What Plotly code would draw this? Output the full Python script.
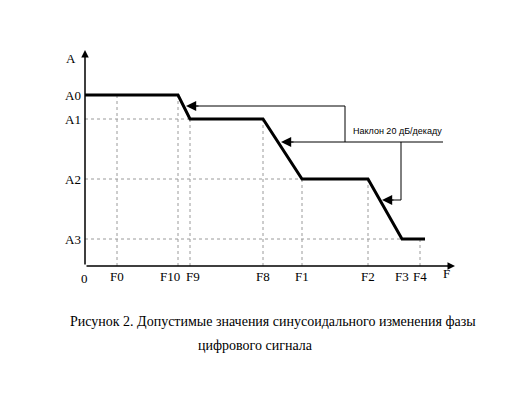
import plotly.graph_objects as go

# Frequency break points (arbitrary linear units along the F axis)
f_names = ["F0", "F10", "F9", "F8", "F1", "F2", "F3", "F4"]
f_vals = [32, 93, 105, 178, 217, 283, 317, 335]

# Amplitude levels
a_names = ["A0", "A1", "A2", "A3"]
a_vals = [171, 147, 87, 27]

# Mask curve (break points)
curve_x = [0, 93, 105, 178, 217, 283, 317, 340]
curve_y = [171, 171, 147, 147, 87, 87, 27, 27]

slope_label = "Наклон 20 дБ/декаду"
caption1 = "Рисунок 2. Допустимые значения синусоидального изменения фазы"
caption2 = "цифрового сигнала"

X_MAX, Y_MAX = 370, 216
OFF = 8  # default page body margin
PX0, PY0 = 85, 266  # pixel position of the origin in the window
W, H = 525 - OFF, 397 - OFF
L, T = PX0 - OFF, PY0 - Y_MAX - OFF
PW, PH = X_MAX, Y_MAX
SERIF = "Liberation Serif, Times New Roman, serif"
SANS = "Liberation Sans, Arial, sans-serif"


def pxx(px):
    return (px - PX0) / PW


def pxy(py):
    return (PY0 - py) / PH


fig = go.Figure()

grid = dict(color="#9a9a9a", width=1, dash="dot")
fv = dict(zip(f_names, f_vals))
av = dict(zip(a_names, a_vals))

# vertical guide lines
vguides = [("F0", "A0"), ("F10", "A0"), ("F9", "A1"), ("F8", "A1"),
           ("F1", "A2"), ("F2", "A2"), ("F4", "A3")]
for f, a in vguides:
    fig.add_trace(go.Scatter(x=[fv[f], fv[f]], y=[0, av[a]], mode="lines",
                             line=grid, hoverinfo="skip", showlegend=False))
# horizontal guide lines
hguides = [("A1", "F9"), ("A2", "F1"), ("A3", "F3")]
for a, f in hguides:
    fig.add_trace(go.Scatter(x=[0, fv[f]], y=[av[a], av[a]], mode="lines",
                             line=grid, hoverinfo="skip", showlegend=False))

# main mask curve
fig.add_trace(go.Scatter(x=curve_x, y=curve_y, mode="lines",
                         line=dict(color="black", width=3),
                         hoverinfo="skip", showlegend=False))

# callout lines
thin = dict(color="black", width=1)
fig.add_trace(go.Scatter(x=[260, 260, 110], y=[124, 160, 160], mode="lines",
                         line=thin, hoverinfo="skip", showlegend=False))
fig.add_trace(go.Scatter(x=[358, 205], y=[124, 124], mode="lines",
                         line=thin, hoverinfo="skip", showlegend=False))
fig.add_trace(go.Scatter(x=[316, 316, 305], y=[124, 66, 66], mode="lines",
                         line=thin, hoverinfo="skip", showlegend=False))

ann = []
# arrowheads of callouts
for (tx, ty, fx) in [(101, 160, 115), (196, 124, 210), (297, 66, 310)]:
    ann.append(dict(x=tx, y=ty, ax=fx, ay=ty, xref="x", yref="y",
                    axref="x", ayref="y", showarrow=True, arrowhead=2,
                    arrowsize=1.7, arrowwidth=1.2, arrowcolor="black", text=""))
# axes with arrows
ann.append(dict(x=0, y=Y_MAX, ax=0, ay=0, xref="x", yref="y", axref="x",
                ayref="y", showarrow=True, arrowhead=2, arrowsize=1,
                arrowwidth=1.5, arrowcolor="black", text=""))
ann.append(dict(x=X_MAX, y=0, ax=0, ay=0, xref="x", yref="y", axref="x",
                ayref="y", showarrow=True, arrowhead=2, arrowsize=1,
                arrowwidth=1.5, arrowcolor="black", text=""))

lab = dict(family=SERIF, size=13, color="black")
mid = dict(showarrow=False, xanchor="center", yanchor="middle")
# x tick labels (F10/F9 nudged apart as in the original)
shifts = {"F10": -8, "F9": 3}
for n, v in zip(f_names, f_vals):
    ann.append(dict(x=v, y=pxy(276), xref="x", yref="paper", text=n,
                    xshift=shifts.get(n, 0), font=lab, **mid))
# y tick labels
for n, v in zip(a_names, a_vals):
    ann.append(dict(x=pxx(83), y=v, xref="paper", yref="y", text=n,
                    showarrow=False, font=lab, xanchor="right",
                    yanchor="middle"))
# axis titles and origin
ann.append(dict(x=pxx(71), y=pxy(59), xref="paper", yref="paper", text="A",
                font=lab, **mid))
ann.append(dict(x=pxx(446), y=pxy(273), xref="paper", yref="paper", text="F",
                font=lab, **mid))
ann.append(dict(x=pxx(84), y=pxy(278), xref="paper", yref="paper", text="0",
                font=lab, **mid))
# slope label
ann.append(dict(x=pxx(397), y=pxy(131), xref="paper", yref="paper",
                text=slope_label, font=dict(family=SANS, size=9, color="black"),
                **mid))
# caption
ann.append(dict(x=pxx(273), y=pxy(321), xref="paper", yref="paper",
                text=caption1, font=dict(family=SERIF, size=14, color="black"),
                **mid))
ann.append(dict(x=pxx(255), y=pxy(345), xref="paper", yref="paper",
                text=caption2, font=dict(family=SERIF, size=14, color="black"),
                **mid))

fig.update_layout(
    width=W, height=H,
    margin=dict(l=L, r=W - L - PW, t=T, b=H - T - PH),
    paper_bgcolor="white", plot_bgcolor="white",
    annotations=ann,
    xaxis=dict(range=[0, X_MAX], showgrid=False, zeroline=False,
               showline=False, showticklabels=False, ticks=""),
    yaxis=dict(range=[0, Y_MAX], showgrid=False, zeroline=False,
               showline=False, showticklabels=False, ticks=""),
)

fig.write_html("out.html")
